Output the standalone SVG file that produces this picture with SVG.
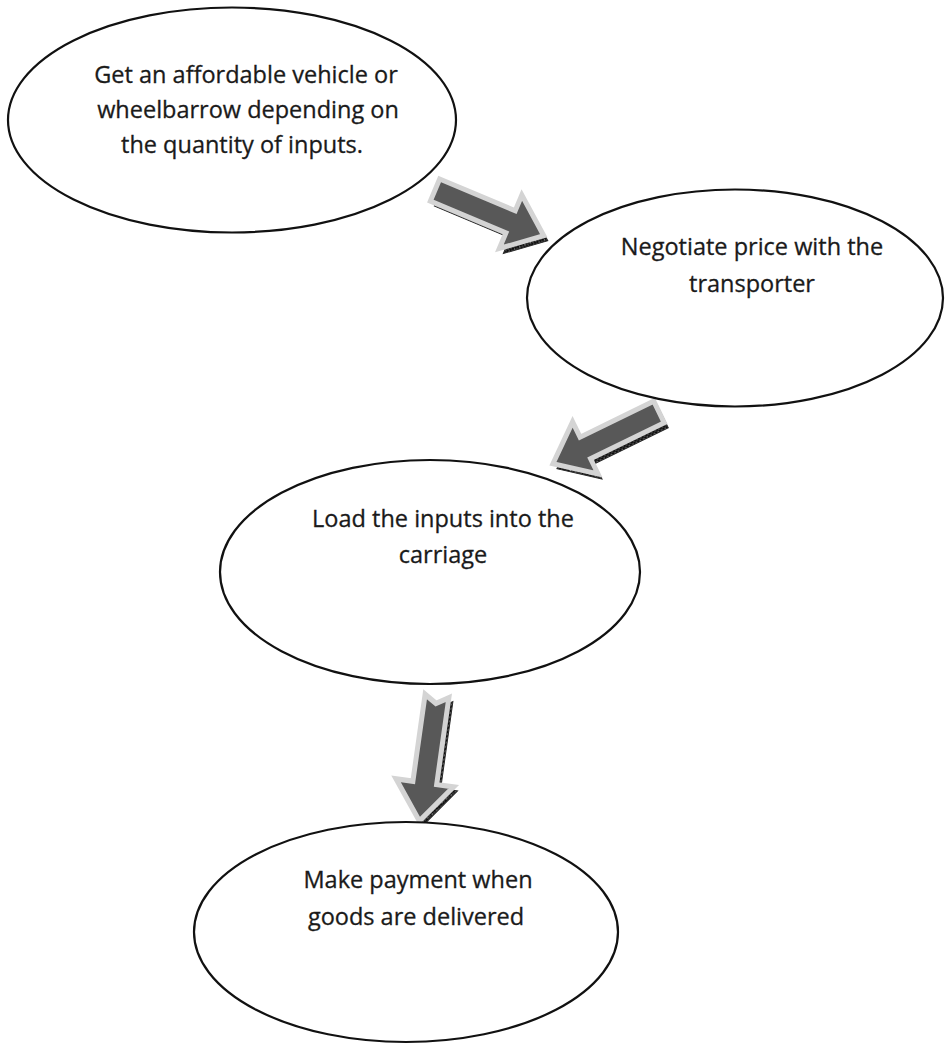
<svg xmlns="http://www.w3.org/2000/svg" xmlns:xlink="http://www.w3.org/1999/xlink" width="945" height="1045" viewBox="0 0 945 1045">
  <style>
    .node ellipse { fill: #ffffff; stroke: #111111; stroke-width: 2.2; }
    .node text { font-family: "Open Sans", "Noto Sans", "Liberation Sans", sans-serif; font-size: 23.5px; fill: #1a1a1a; stroke: #1a1a1a; stroke-width: 0.3; text-anchor: middle; }
    .body { fill: #585858; stroke: #d4d4d4; stroke-width: 5; stroke-linejoin: miter; }
    .shade { fill: url(#hatch); stroke: #2a2a2a; stroke-width: 1; }
  </style>
  <defs>
    <!-- speckled dark fill used for the drop shadow of the block arrows -->
    <pattern id="hatch" patternUnits="userSpaceOnUse" width="4" height="4">
      <rect width="4" height="4" fill="#3a3a3a"/>
      <rect x="0" y="0" width="2" height="2" fill="#0d0d0d"/>
      <rect x="2" y="2" width="2" height="2" fill="#111111"/>
      <rect x="2" y="0" width="1" height="1" fill="#9a9a9a"/>
    </pattern>
    <!-- block arrow pointing along +x, tail centred on the origin -->
    <path id="arrowShape" d="M0,-12 L82,-12 L82,-29 L118,0 L82,29 L82,12 L0,12 Z"/>
    <path id="arrowNotched" d="M0,-12 L82,-12 L82,-29 L118,0 L82,29 L82,12 L0,12 L7,0 Z"/>
  </defs>

  <rect width="945" height="1045" fill="#ffffff"/>

  <g id="connectors">
    <g id="arrow-1-2">
      <use xlink:href="#arrowShape" class="shade" transform="translate(439,195) rotate(22.8)"/>
      <use xlink:href="#arrowShape" class="body" transform="translate(435,190) rotate(22.8)"/>
    </g>
    <g id="arrow-2-3">
      <use xlink:href="#arrowShape" class="shade" transform="translate(663,417) rotate(154)"/>
      <use xlink:href="#arrowShape" class="body" transform="translate(659,412) rotate(154)"/>
    </g>
    <g id="arrow-3-4">
      <use xlink:href="#arrowNotched" class="shade" transform="translate(441,700) rotate(98) scale(1.07,1)"/>
      <use xlink:href="#arrowNotched" class="body" transform="translate(437,696) rotate(98) scale(1.07,1)"/>
    </g>
  </g>

  <g id="node-vehicle" class="node">
    <ellipse cx="232" cy="120" rx="224" ry="112.5"/>
    <text x="246" y="83">Get an affordable vehicle or</text>
    <text x="248" y="118">wheelbarrow depending on</text>
    <text x="242" y="153">the quantity of inputs.</text>
  </g>

  <g id="node-negotiate" class="node">
    <ellipse cx="735" cy="298" rx="208" ry="108.5"/>
    <text x="752" y="255">Negotiate price with the</text>
    <text x="752" y="292">transporter</text>
  </g>

  <g id="node-load" class="node">
    <ellipse cx="430" cy="572" rx="210" ry="112"/>
    <text x="443" y="527">Load the inputs into the</text>
    <text x="443" y="563">carriage</text>
  </g>

  <g id="node-payment" class="node">
    <ellipse cx="406" cy="932" rx="212" ry="110"/>
    <text x="418" y="888">Make payment when</text>
    <text x="416" y="925">goods are delivered</text>
  </g>
</svg>
